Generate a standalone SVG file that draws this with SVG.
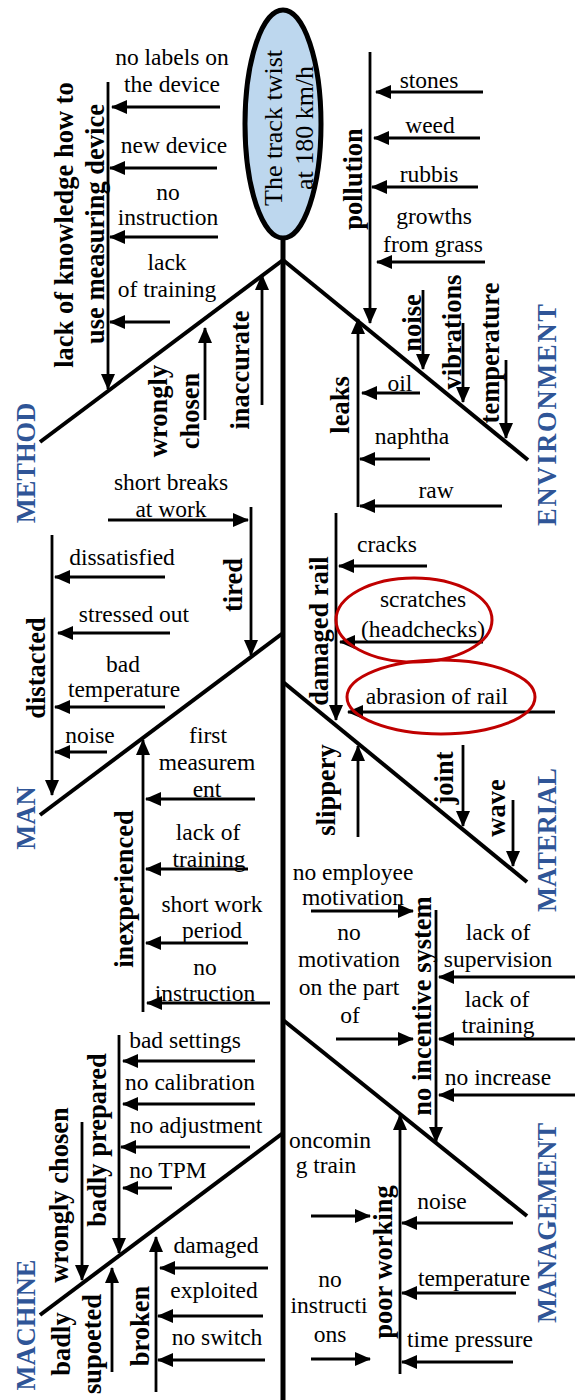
<svg xmlns="http://www.w3.org/2000/svg" width="581" height="1400" viewBox="0 0 581 1400">
<style>
.t{font-family:"Liberation Serif","Times New Roman",serif;font-size:23.5px;fill:#000;text-anchor:middle}
.b{font-family:"Liberation Serif","Times New Roman",serif;font-size:26.5px;font-weight:bold;fill:#000;text-anchor:middle}
.c{font-family:"Liberation Serif","Times New Roman",serif;font-size:26.5px;font-weight:bold;fill:#2F5597;text-anchor:middle}
.e{font-family:"Liberation Serif","Times New Roman",serif;font-size:26px;fill:#000;text-anchor:middle}
.bone{stroke:#000;stroke-width:4;fill:none}
.sub{stroke:#000;stroke-width:2.8;fill:none}
.a{stroke:#000;stroke-width:2.8;fill:none;marker-end:url(#ah)}
.red{fill:none;stroke:#C00000;stroke-width:3}
</style>
<defs>
<marker id="ah" markerUnits="userSpaceOnUse" markerWidth="16" markerHeight="14" refX="15" refY="7" orient="auto">
<path d="M0,0 L16,7 L0,14 z" fill="#000"/>
</marker>
</defs>
<rect width="581" height="1400" fill="#fff"/>

<g id="connectors">
<line class="bone" x1="283" y1="238" x2="283" y2="1400" style="stroke-width:5"/>
<line class="bone" x1="283" y1="260" x2="40" y2="442"/>
<line class="bone" x1="283" y1="260" x2="528" y2="460"/>
<line class="bone" x1="283" y1="633" x2="40" y2="815"/>
<line class="bone" x1="283" y1="682" x2="527" y2="882"/>
<line class="bone" x1="283" y1="1020" x2="527" y2="1216"/>
<line class="bone" x1="283" y1="1133" x2="40" y2="1315"/>
<!-- METHOD -->
<line class="a" x1="108" y1="82" x2="108" y2="389"/>
<line class="a" x1="220" y1="107" x2="112" y2="107"/>
<line class="a" x1="217" y1="168" x2="110" y2="168"/>
<line class="a" x1="218" y1="237" x2="110" y2="237"/>
<line class="a" x1="170" y1="322" x2="110" y2="322"/>
<line class="a" x1="205" y1="420" x2="205" y2="328"/>
<line class="a" x1="262" y1="405" x2="262" y2="275"/>
<!-- ENVIRONMENT -->
<line class="a" x1="370" y1="52" x2="370" y2="323"/>
<line class="a" x1="483" y1="92" x2="376" y2="92"/>
<line class="a" x1="480" y1="138" x2="374" y2="138"/>
<line class="a" x1="478" y1="187" x2="372" y2="187"/>
<line class="a" x1="485" y1="262" x2="377" y2="262"/>
<line class="a" x1="423" y1="290" x2="423" y2="369"/>
<line class="a" x1="463" y1="323" x2="463" y2="402"/>
<line class="a" x1="506" y1="360" x2="506" y2="438"/>
<line class="a" x1="358" y1="507" x2="358" y2="319"/>
<line class="a" x1="420" y1="393" x2="362" y2="393"/>
<line class="a" x1="430" y1="459" x2="360" y2="459"/>
<line class="a" x1="502" y1="506" x2="360" y2="506"/>
<!-- MAN -->
<line class="a" x1="108" y1="520" x2="248" y2="520"/>
<line class="a" x1="251" y1="507" x2="251" y2="655"/>
<line class="a" x1="52" y1="535" x2="52" y2="795"/>
<line class="a" x1="165" y1="577" x2="55" y2="577"/>
<line class="a" x1="170" y1="633" x2="58" y2="633"/>
<line class="a" x1="165" y1="707" x2="55" y2="707"/>
<line class="a" x1="107" y1="752" x2="55" y2="752"/>
<line class="a" x1="143" y1="1012" x2="143" y2="740"/>
<line class="a" x1="255" y1="799" x2="146" y2="799"/>
<line class="a" x1="248" y1="869" x2="146" y2="869"/>
<line class="a" x1="248" y1="943" x2="146" y2="943"/>
<line class="a" x1="270" y1="1003" x2="147" y2="1003"/>
<!-- MATERIAL -->
<line class="a" x1="336" y1="513" x2="336" y2="720"/>
<line class="a" x1="427" y1="566" x2="339" y2="566"/>
<line class="a" x1="483" y1="642" x2="340" y2="642"/>
<line class="a" x1="555" y1="712" x2="348" y2="712"/>
<line class="a" x1="358" y1="837" x2="358" y2="746"/>
<line class="a" x1="463" y1="745" x2="463" y2="826"/>
<line class="a" x1="513" y1="800" x2="513" y2="866"/>
<!-- MANAGEMENT -->
<line class="a" x1="311" y1="911" x2="413" y2="911"/>
<line class="a" x1="436" y1="910" x2="436" y2="1142"/>
<line class="a" x1="336" y1="1039" x2="413" y2="1039"/>
<line class="a" x1="575" y1="977" x2="439" y2="977"/>
<line class="a" x1="575" y1="1039" x2="439" y2="1039"/>
<line class="a" x1="575" y1="1095" x2="439" y2="1095"/>
<line class="a" x1="311" y1="1216" x2="370" y2="1216"/>
<line class="a" x1="400" y1="1374" x2="400" y2="1115"/>
<line class="a" x1="513" y1="1223" x2="402" y2="1223"/>
<line class="a" x1="516" y1="1293" x2="402" y2="1293"/>
<line class="a" x1="513" y1="1362" x2="402" y2="1362"/>
<line class="a" x1="311" y1="1359" x2="370" y2="1359"/>
<!-- MACHINE -->
<line class="a" x1="119" y1="1035" x2="119" y2="1253"/>
<line class="a" x1="255" y1="1061" x2="123" y2="1061"/>
<line class="a" x1="255" y1="1104" x2="123" y2="1104"/>
<line class="a" x1="250" y1="1147" x2="121" y2="1147"/>
<line class="a" x1="172" y1="1188" x2="123" y2="1188"/>
<line class="a" x1="82" y1="1122" x2="82" y2="1280"/>
<line class="a" x1="112" y1="1372" x2="112" y2="1268"/>
<line class="a" x1="156" y1="1392" x2="156" y2="1237"/>
<line class="a" x1="268" y1="1268" x2="160" y2="1268"/>
<line class="a" x1="263" y1="1316" x2="158" y2="1316"/>
<line class="a" x1="265" y1="1360" x2="158" y2="1360"/>
</g>

<g id="effect">
<ellipse cx="283" cy="124" rx="38" ry="114" fill="#BDD7EE" stroke="#000" stroke-width="5"/>
<text class="e" transform="translate(282,128) rotate(-90)">The track twist</text>
<text class="e" transform="translate(313,128) rotate(-90)">at 180 km/h</text>
</g>

<g id="cat-method"><text class="c" transform="translate(35,463) rotate(-90)">METHOD</text></g>
<g id="cat-environment"><text class="c" transform="translate(556,415) rotate(-90)" textLength="222" lengthAdjust="spacing">ENVIRONMENT</text></g>
<g id="cat-man"><text class="c" transform="translate(35,818) rotate(-90)">MAN</text></g>
<g id="cat-material"><text class="c" transform="translate(556,840) rotate(-90)">MATERIAL</text></g>
<g id="cat-machine"><text class="c" transform="translate(35,1325) rotate(-90)">MACHINE</text></g>
<g id="cat-management"><text class="c" transform="translate(556,1223) rotate(-90)">MANAGEMENT</text></g>

<!-- METHOD nodes -->
<g id="m-lack-knowledge">
<text class="b" transform="translate(73,225) rotate(-90)">lack of knowledge how to</text>
<text class="b" transform="translate(104,224) rotate(-90)">use measuring device</text>
</g>
<g id="m-no-labels"><text class="t" x="172" y="65">no labels on</text><text class="t" x="172" y="92">the device</text></g>
<g id="m-new-device"><text class="t" x="174" y="153">new device</text></g>
<g id="m-no-instruction"><text class="t" x="168" y="200">no</text><text class="t" x="168" y="225">instruction</text></g>
<g id="m-lack-training"><text class="t" x="167" y="270">lack</text><text class="t" x="167" y="297">of training</text></g>
<g id="m-wrongly-chosen">
<text class="b" transform="translate(167,411) rotate(-90)">wrongly</text>
<text class="b" transform="translate(199,411) rotate(-90)">chosen</text>
</g>
<g id="m-inaccurate"><text class="b" transform="translate(249,370) rotate(-90)">inaccurate</text></g>

<!-- ENVIRONMENT nodes -->
<g id="e-pollution"><text class="b" transform="translate(362,179) rotate(-90)">pollution</text></g>
<g id="e-stones"><text class="t" x="429" y="88">stones</text></g>
<g id="e-weed"><text class="t" x="430" y="133">weed</text></g>
<g id="e-rubbis"><text class="t" x="429" y="182">rubbis</text></g>
<g id="e-growths"><text class="t" x="434" y="224">growths</text><text class="t" x="433" y="252">from grass</text></g>
<g id="e-noise"><text class="b" transform="translate(421,323) rotate(-90)">noise</text></g>
<g id="e-vibrations"><text class="b" transform="translate(461,332) rotate(-90)">vibrations</text></g>
<g id="e-temperature"><text class="b" transform="translate(499,353) rotate(-90)">temperature</text></g>
<g id="e-leaks"><text class="b" transform="translate(349,405) rotate(-90)">leaks</text></g>
<g id="e-oil"><text class="t" x="400" y="391">oil</text></g>
<g id="e-naphtha"><text class="t" x="412" y="444">naphtha</text></g>
<g id="e-raw"><text class="t" x="436" y="498">raw</text></g>

<!-- MAN nodes -->
<g id="p-short-breaks"><text class="t" x="171" y="490">short breaks</text><text class="t" x="171" y="517">at work</text></g>
<g id="p-tired"><text class="b" transform="translate(242,585) rotate(-90)">tired</text></g>
<g id="p-distacted"><text class="b" transform="translate(45,668) rotate(-90)">distacted</text></g>
<g id="p-dissatisfied"><text class="t" x="122" y="565">dissatisfied</text></g>
<g id="p-stressed"><text class="t" x="134" y="622">stressed out</text></g>
<g id="p-bad-temp"><text class="t" x="123" y="672">bad</text><text class="t" x="124" y="697">temperature</text></g>
<g id="p-noise"><text class="t" x="90" y="743">noise</text></g>
<g id="p-inexperienced"><text class="b" transform="translate(133,889) rotate(-90)">inexperienced</text></g>
<g id="p-first-measurement"><text class="t" x="208" y="743">first</text><text class="t" x="207" y="770">measurem</text><text class="t" x="207" y="797">ent</text></g>
<g id="p-lack-training"><text class="t" x="208" y="840">lack of</text><text class="t" x="209" y="867">training</text></g>
<g id="p-short-work"><text class="t" x="212" y="912">short work</text><text class="t" x="212" y="938">period</text></g>
<g id="p-no-instruction"><text class="t" x="205" y="975">no</text><text class="t" x="205" y="1001">instruction</text></g>

<!-- MATERIAL nodes -->
<g id="t-damaged-rail"><text class="b" transform="translate(328,631) rotate(-90)">damaged rail</text></g>
<g id="t-cracks"><text class="t" x="387" y="552">cracks</text></g>
<g id="t-scratches"><text class="t" x="423" y="607">scratches</text><text class="t" x="423" y="637">(headchecks)</text>
<ellipse class="red" cx="414" cy="620" rx="78" ry="42"/></g>
<g id="t-abrasion"><text class="t" x="437" y="704">abrasion of rail</text>
<ellipse class="red" cx="441" cy="697" rx="94" ry="37"/></g>
<g id="t-slippery"><text class="b" transform="translate(335,790) rotate(-90)">slippery</text></g>
<g id="t-joint"><text class="b" transform="translate(453,778) rotate(-90)">joint</text></g>
<g id="t-wave"><text class="b" transform="translate(505,808) rotate(-90)">wave</text></g>

<!-- MANAGEMENT nodes -->
<g id="g-no-employee"><text class="t" x="353" y="880">no employee</text><text class="t" x="353" y="905">motivation</text></g>
<g id="g-no-incentive"><text class="b" transform="translate(431,1006) rotate(-90)">no incentive system</text></g>
<g id="g-no-motivation"><text class="t" x="349" y="940">no</text><text class="t" x="349" y="967">motivation</text><text class="t" x="349" y="995">on the part</text><text class="t" x="350" y="1023">of</text></g>
<g id="g-lack-supervision"><text class="t" x="498" y="940">lack of</text><text class="t" x="498" y="967">supervision</text></g>
<g id="g-lack-training"><text class="t" x="497" y="1007">lack of</text><text class="t" x="498" y="1033">training</text></g>
<g id="g-no-increase"><text class="t" x="498" y="1085">no increase</text></g>
<g id="g-oncoming"><text class="t" x="330" y="1148">oncomin</text><text class="t" x="326" y="1173">g train</text></g>
<g id="g-poor-working"><text class="b" transform="translate(392,1262) rotate(-90)">poor working</text></g>
<g id="g-noise"><text class="t" x="442" y="1209">noise</text></g>
<g id="g-temperature"><text class="t" x="474" y="1286">temperature</text></g>
<g id="g-time-pressure"><text class="t" x="470" y="1347">time pressure</text></g>
<g id="g-no-instructions"><text class="t" x="330" y="1287">no</text><text class="t" x="329" y="1313">instructi</text><text class="t" x="330" y="1342">ons</text></g>

<!-- MACHINE nodes -->
<g id="h-badly-prepared"><text class="b" transform="translate(106,1140) rotate(-90)">badly prepared</text></g>
<g id="h-bad-settings"><text class="t" x="185" y="1048">bad settings</text></g>
<g id="h-no-calibration"><text class="t" x="190" y="1090">no calibration</text></g>
<g id="h-no-adjustment"><text class="t" x="196" y="1133">no adjustment</text></g>
<g id="h-no-tpm"><text class="t" x="168" y="1178">no TPM</text></g>
<g id="h-wrongly-chosen"><text class="b" transform="translate(68,1195) rotate(-90)">wrongly chosen</text></g>
<g id="h-badly-supoeted">
<text class="b" transform="translate(70,1344) rotate(-90)">badly</text>
<text class="b" transform="translate(101,1344) rotate(-90)">supoeted</text>
</g>
<g id="h-broken"><text class="b" transform="translate(149,1326) rotate(-90)">broken</text></g>
<g id="h-damaged"><text class="t" x="216" y="1253">damaged</text></g>
<g id="h-exploited"><text class="t" x="214" y="1298">exploited</text></g>
<g id="h-no-switch"><text class="t" x="217" y="1345">no switch</text></g>
</svg>
